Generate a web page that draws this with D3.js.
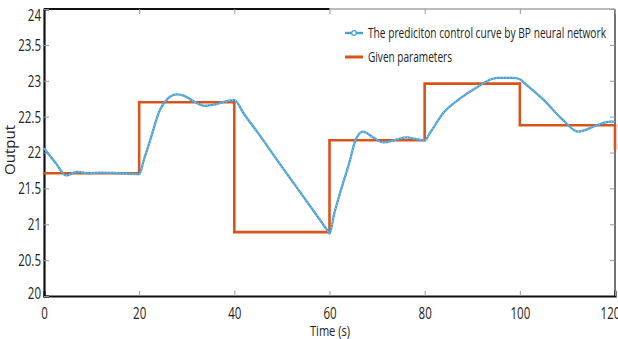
<!DOCTYPE html>
<html>
<head>
<meta charset="utf-8">
<script src="https://cdn.jsdelivr.net/npm/d3@7"></script>
<style>
  body { margin: 0; background: #fff; }
  text { font-family: "Open Sans", "Noto Sans", sans-serif; fill: #222; }
</style>
</head>
<body>
<div class="chart"></div>
<script>
var w = 618;
var h = 339;

// data
var bpTime  = [0, 2.5, 4.6, 7, 9.5, 12, 16, 20, 21, 22.3, 24.4, 26, 27.9, 29.5, 31, 33.8, 36, 38, 40,
               42, 45, 50, 55, 58, 59.5, 60, 61, 62.2, 64.3, 65.4, 67, 69.2, 71.3, 74, 76.3, 78, 80,
               81.1, 83.9, 87.4, 91, 95.2, 98.6, 100, 101.1, 104.9, 109.1, 112.2, 114, 116.2, 119, 120];
var bpValue = [22.06, 21.85, 21.68, 21.73, 21.71, 21.72, 21.71, 21.70, 21.90, 22.17, 22.60, 22.75, 22.81, 22.79, 22.73, 22.65, 22.67, 22.71, 22.73,
               22.54, 22.27, 21.80, 21.34, 21.06, 20.92, 20.87, 21.15, 21.43, 21.89, 22.16, 22.29, 22.21, 22.14, 22.18, 22.21, 22.19, 22.17,
               22.27, 22.55, 22.75, 22.91, 23.04, 23.04, 23.02, 22.96, 22.74, 22.45, 22.29, 22.32, 22.38, 22.43, 22.43];

var givenTime  = [0, 20, 40, 60, 80, 100, 120];
var givenValue = [21.71, 22.70, 20.89, 22.17, 22.96, 22.38, 22.03];

var xTicks = [0, 20, 40, 60, 80, 100, 120];
var yTicks = [20, 20.5, 21, 21.5, 22, 22.5, 23, 23.5, 24];

var legendLabels = ["The prediciton control curve by BP neural network", "Given parameters"];

var blue = "#4a9fd3";
var orange = "#d9541a";

var pLeft = 44, pRight = 615, pTop = 9, pBottom = 296;

var svg = d3.select(".chart").append("svg")
    .attr("width", w)
    .attr("height", h);

var x = d3.scaleLinear().domain([0, 120]).range([pLeft, pRight]);
var y = d3.scaleLinear().domain([20, 24]).range([pBottom, pTop]);

var sx = 0.68; // squeeze text horizontally like the original

function squeeze(sel) {
  sel.each(function() {
    var t = d3.select(this);
    var tx = +t.attr("x") || 0;
    t.attr("x", tx / sx).attr("transform", "scale(" + sx + ",1)");
  });
}

// frame: top + right are lighter
svg.append("line").attr("x1", x(60)).attr("x2", pRight).attr("y1", pTop).attr("y2", pTop)
    .attr("stroke", "#777").attr("stroke-width", 1);
svg.append("line").attr("x1", pLeft).attr("x2", x(60)).attr("y1", pTop).attr("y2", pTop)
    .attr("stroke", "#111").attr("stroke-width", 2);
svg.append("line").attr("x1", pRight).attr("x2", pRight).attr("y1", pTop).attr("y2", pBottom)
    .attr("stroke", "#444").attr("stroke-width", 1.5);

// top / right inward ticks
svg.append("g").attr("transform", "translate(0," + pTop + ")")
    .call(d3.axisTop(x).tickValues(xTicks).tickSize(-5).tickFormat(""))
    .call(g => g.select(".domain").remove())
    .selectAll("line").attr("stroke", "#999");
svg.append("g").attr("transform", "translate(" + pRight + ",0)")
    .call(d3.axisRight(y).tickValues(yTicks).tickSize(-5).tickFormat(""))
    .call(g => g.select(".domain").remove())
    .selectAll("line").attr("stroke", "#999");

// bottom axis
var xAxis = svg.append("g").attr("transform", "translate(0," + pBottom + ")")
    .call(d3.axisBottom(x).tickValues(xTicks).tickSize(-5).tickPadding(11).tickFormat(d3.format("d")));
xAxis.select(".domain").attr("stroke", "#111").attr("stroke-width", 2.2);
xAxis.selectAll(".tick line").attr("stroke", "#999");
xAxis.selectAll("text").attr("font-size", 17).attr("font-family", "Open Sans").call(squeeze);
// last label is clipped by the right edge in the original
xAxis.selectAll(".tick text").filter(d => d === 120).attr("dx", -5 / sx);

// left axis
var yAxis = svg.append("g").attr("transform", "translate(" + pLeft + ",0)")
    .call(d3.axisLeft(y).tickValues(yTicks).tickSize(-5).tickPadding(3).tickFormat(d3.format("")));
yAxis.select(".domain").attr("stroke", "#111").attr("stroke-width", 2.2);
yAxis.selectAll(".tick line").attr("stroke", "#999");
yAxis.selectAll("text").attr("font-size", 17).attr("font-family", "Open Sans").call(squeeze);
// end labels sit inside the frame in the original
yAxis.selectAll(".tick text").filter(d => d === 24).attr("dy", "0.7em");
yAxis.selectAll(".tick text").filter(d => d === 20).attr("dy", "0.15em");

// given parameters (step line)
var step = d3.line()
    .x((d, i) => x(givenTime[i]))
    .y(d => y(d))
    .curve(d3.curveStepAfter);
svg.append("path")
    .datum(givenValue)
    .attr("d", step)
    .attr("fill", "none")
    .attr("stroke", orange)
    .attr("stroke-width", 2.6);

// BP prediction curve
var curve = d3.line()
    .x((d, i) => x(bpTime[i]))
    .y(d => y(d))
    .curve(d3.curveMonotoneX);
svg.append("path")
    .datum(bpValue)
    .attr("d", curve)
    .attr("fill", "none")
    .attr("stroke", blue)
    .attr("stroke-width", 2.3);
svg.append("path")
    .datum(bpValue)
    .attr("d", curve)
    .attr("fill", "none")
    .attr("stroke", "#a9d4ef")
    .attr("stroke-width", 0.9)
    .attr("stroke-dasharray", "1.2,2");

// legend
var lg = svg.append("g");
lg.append("line").attr("x1", 345).attr("x2", 363).attr("y1", 33).attr("y2", 33)
    .attr("stroke", blue).attr("stroke-width", 2.4);
lg.append("circle").attr("cx", 354).attr("cy", 33).attr("r", 2.3)
    .attr("fill", "#fff").attr("stroke", blue).attr("stroke-width", 1.2);
lg.append("line").attr("x1", 345).attr("x2", 363).attr("y1", 57).attr("y2", 57)
    .attr("stroke", orange).attr("stroke-width", 3);
lg.selectAll("text.leg")
    .data(legendLabels)
    .enter().append("text")
    .attr("class", "leg")
    .attr("x", 368)
    .attr("y", (d, i) => 38 + i * 24)
    .attr("font-size", 15)
    .attr("textLength", (d, i) => i === 0 ? 238 : 84)
    .attr("lengthAdjust", "spacingAndGlyphs")
    .text(d => d);

// axis titles
svg.append("text")
    .attr("x", 330).attr("y", 336)
    .attr("text-anchor", "middle")
    .attr("font-size", 15)
    .attr("textLength", 40)
    .attr("lengthAdjust", "spacingAndGlyphs")
    .text("Time (s)");

svg.append("text")
    .attr("transform", "translate(15,150) rotate(-90)")
    .attr("text-anchor", "middle")
    .attr("font-size", 14)
    .attr("textLength", 50)
    .attr("lengthAdjust", "spacingAndGlyphs")
    .text("Output");
</script>
</body>
</html>
